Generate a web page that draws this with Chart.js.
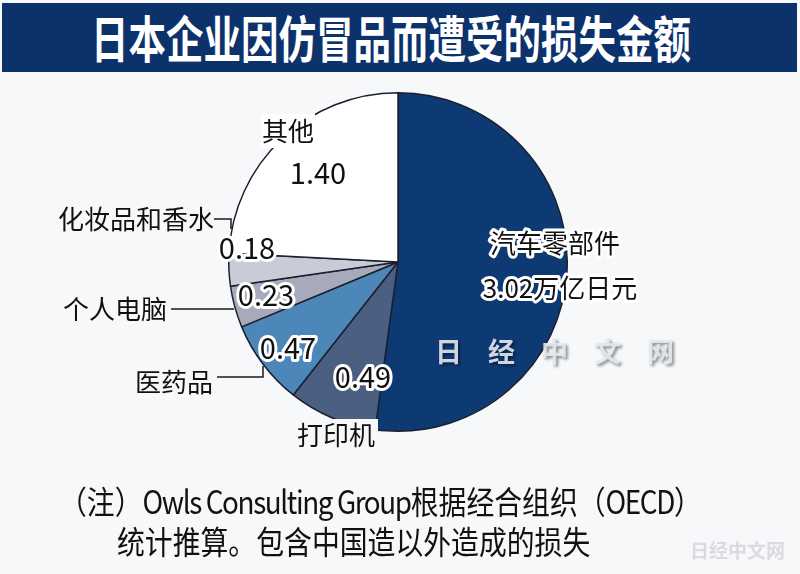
<!DOCTYPE html>
<html>
<head>
<meta charset="utf-8">
<script src="https://cdn.jsdelivr.net/npm/chart.js"></script>
<style>
  body { margin: 0; background: #f7f8fa; font-family: "Noto Sans CJK SC", sans-serif; }
  #wrap { position: relative; width: 800px; height: 574px; overflow: hidden; }
  #pie { position: absolute; left: 0; top: 0; }
  .banner { position: absolute; left: 2px; top: 3px; width: 795px; height: 69px; background: #0c326c; overflow: hidden; }
  .banner div { position: absolute; left: -61px; width: 900px; top: 5px; text-align: center; color: #fff; white-space: nowrap;
    font-size: 50px; font-weight: 700; line-height: 56px; transform: scaleX(0.75); transform-origin: 450px 0; }
  .note { position: absolute; color: #111; font-size: 32px; line-height: 40px; white-space: nowrap;
    transform: scaleX(0.87); transform-origin: 0 0; }
  .note span { letter-spacing: -1.6px; }
  .mark { position: absolute; left: 690px; top: 536px; color: #d9dbe0; font-size: 19px; font-weight: 700; }
</style>
</head>
<body>
<div id="wrap">
  <canvas id="pie" width="800" height="574"></canvas>
  <div class="banner"><div>日本企业因仿冒品而遭受的损失金额</div></div>
  <div class="note" style="left:59px; top:480px;">（注）<span>Owls Consulting Group</span>根据经合组织（<span>OECD</span>）</div>
  <div class="note" style="left:117px; top:520px;">统计推算。包含中国造以外造成的损失</div>
  <div class="mark">日经中文网</div>
</div>
<script>
  // data (万亿日元), clockwise from 12 o'clock
  const categories = ['汽车零部件', '打印机', '医药品', '个人电脑', '化妆品和香水', '其他'];
  const values = [3.02, 0.49, 0.47, 0.23, 0.18, 1.40];
  const valueLabels = ['3.02万亿日元', '0.49', '0.47', '0.23', '0.18', '1.40'];
  const colors = ['#0e3a74', '#4a5f82', '#4d86b9', '#a7aabb', '#c9cbd7', '#ffffff'];

  const FONT = '"Noto Sans CJK SC", sans-serif';

  // label spots, px offsets from pie centre
  const catPos = {
    '汽车零部件': [157, -19, 'center'],
    '打印机': [-62, 173, 'center'],
    '医药品': [-185, 120, 'right'],
    '个人电脑': [-231, 47, 'right'],
    '化妆品和香水': [-184, -43, 'right'],
    '其他': [-110, -131, 'center']
  };
  const valPos = [[162, 26], [-35, 115], [-110, 86], [-132, 33], [-151, -14], [-80, -89]];

  const labelPlugin = {
    id: 'labels',
    afterDatasetsDraw(chart) {
      const ctx = chart.ctx;
      const arc = chart.getDatasetMeta(0).data[0];
      const cx = arc.x, cy = arc.y;
      ctx.save();
      ctx.textBaseline = 'middle';

      // boxes that break the outline under some labels
      ctx.fillStyle = '#ffffff';
      ctx.fillRect(cx - 137, cy - 148, 54, 34);
      ctx.fillStyle = '#f7f8fa';
      ctx.fillRect(cx - 102, cy + 157, 82, 36);

      // leader lines
      ctx.strokeStyle = '#1a1a1a';
      ctx.lineWidth = 1.5;
      ctx.beginPath();
      ctx.moveTo(cx - 184, cy - 43); ctx.lineTo(cx - 167, cy - 43); ctx.lineTo(cx - 167, cy - 33);
      ctx.moveTo(cx - 227, cy + 47); ctx.lineTo(cx - 164, cy + 47);
      ctx.moveTo(cx - 181, cy + 115); ctx.lineTo(cx - 135, cy + 115); ctx.lineTo(cx - 135, cy + 104);
      ctx.stroke();

      // category names
      ctx.fillStyle = '#111';
      ctx.font = '26px ' + FONT;
      categories.forEach((c, i) => {
        const p = catPos[c];
        ctx.textAlign = p[2];
        if (i === 0) {
          ctx.strokeStyle = '#fff'; ctx.lineWidth = 6; ctx.lineJoin = 'round';
          ctx.strokeText(c, cx + p[0], cy + p[1]);
        }
        ctx.fillText(c, cx + p[0], cy + p[1]);
      });

      // values
      ctx.textAlign = 'center';
      values.forEach((v, i) => {
        const p = valPos[i];
        ctx.font = (i === 0 ? '26px ' : '29px ') + FONT;
        if (i < 5) {
          ctx.strokeStyle = '#fff'; ctx.lineWidth = 6; ctx.lineJoin = 'round';
          ctx.strokeText(valueLabels[i], cx + p[0], cy + p[1]);
        }
        ctx.fillStyle = '#111';
        ctx.fillText(valueLabels[i], cx + p[0], cy + p[1]);
      });

      // watermark
      ctx.font = 'bold 27px ' + FONT;
      ctx.textAlign = 'left';
      ctx.shadowColor = 'rgba(0,0,0,0.5)';
      ctx.shadowOffsetX = 2; ctx.shadowOffsetY = 2; ctx.shadowBlur = 3;
      ctx.fillStyle = 'rgba(228,232,240,0.9)';
      ['日', '经', '中', '文', '网'].forEach((ch, i) => ctx.fillText(ch, cx + 37 + i * 53, cy + 90));
      ctx.restore();
    }
  };

  new Chart(document.getElementById('pie'), {
    type: 'pie',
    data: {
      labels: categories,
      datasets: [{
        data: values,
        backgroundColor: colors,
        borderColor: '#1c1f2e',
        borderWidth: 1.5
      }]
    },
    options: {
      responsive: false,
      animation: false,
      devicePixelRatio: 1,
      layout: { padding: { top: 92, bottom: 142, left: 228, right: 232 } },
      plugins: { legend: { display: false }, tooltip: { enabled: false } }
    },
    plugins: [labelPlugin]
  });
</script>
</body>
</html>
